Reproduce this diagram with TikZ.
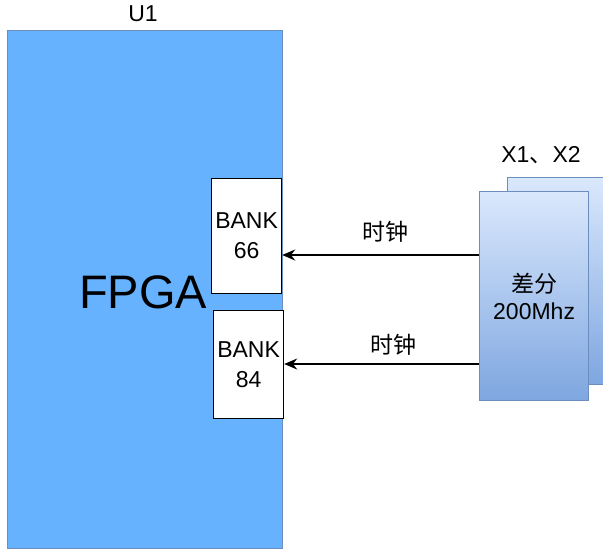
\documentclass[tikz,border=0pt]{standalone}
\usepackage{fontspec}
\setmainfont{Liberation Sans}
\newfontfamily\cjk{Noto Sans CJK SC}
\usetikzlibrary{arrows.meta}
\definecolor{fpgafill}{HTML}{66B2FF}
\definecolor{fpgaline}{HTML}{6C8EBF}
\definecolor{xtop}{HTML}{DAE8FC}
\definecolor{xbot}{HTML}{7EA6E0}
\tikzset{
  bankbox/.style={draw=black, fill=white, line width=1.2pt, inner sep=0pt, align=center, font=\fontsize{23}{30}\selectfont},
  xtalbox/.style={draw=fpgaline, line width=1.2pt, top color=xtop, bottom color=xbot, inner sep=0pt},
  clkarrow/.style={draw=black, line width=1.8pt, -{Stealth[length=13pt,width=11pt]}},
  lbl/.style={font=\fontsize{23}{27}\selectfont, inner sep=0pt},
}
\begin{document}
\begin{tikzpicture}[x=1pt,y=-1pt]
\useasboundingbox (0,0) rectangle (603,550);
% FPGA body
\node[draw=fpgaline, fill=fpgafill, line width=1pt, minimum width=275pt, minimum height=518pt, inner sep=0pt, anchor=north west] (fpga) at (7,30) {};
\node[lbl] (u1) at (143,14) {U1};
\node[font=\fontsize{47}{50}\selectfont, inner sep=0pt] (fpgatext) at (143,292) {FPGA};
% banks
\node[bankbox, minimum width=70pt, minimum height=115pt, anchor=north west] (b66) at (211,178) {BANK\\66};
\node[bankbox, minimum width=70pt, minimum height=108pt, anchor=north west] (b84) at (213,310) {BANK\\84};
% crystals
\node[xtalbox, minimum width=100pt, minimum height=207pt, anchor=north west] (x2) at (507,177) {};
\node[xtalbox, minimum width=109pt, minimum height=209pt, anchor=north west, align=center, font=\fontsize{23}{27}\selectfont] (x1) at (479,191) {{\cjk 差分}\\200Mhz};
\node[lbl] (xlabel) at (541,155) {X1{\cjk 、}X2};
% arrows
\coordinate (s1) at (x1.west |- 0,255);
\coordinate (s2) at (x1.west |- 0,364);
\draw[clkarrow] (s1) -- (s1 -| b66.east);
\draw[clkarrow] (s2) -- (s2 -| b84.east);
\node[lbl] (c1) at (385,232) {\cjk 时钟};
\node[lbl] (c2) at (393,345) {\cjk 时钟};
\end{tikzpicture}
\end{document}
